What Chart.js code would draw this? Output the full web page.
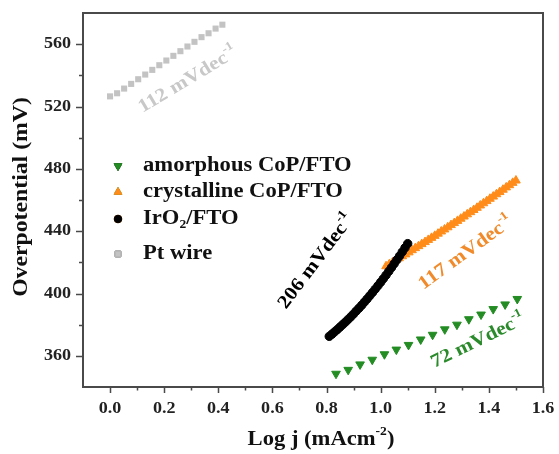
<!DOCTYPE html>
<html>
<head>
<meta charset="utf-8">
<script src="https://cdn.jsdelivr.net/npm/chart.js@4.4.0/dist/chart.umd.min.js"></script>
<style>
  html, body { margin: 0; padding: 0; background: #fff; }
  #wrap { width: 559px; height: 454px; }
</style>
</head>
<body>
<div id="wrap"><canvas id="tafel" width="559" height="454"></canvas></div>
<script>
// tafel plot -- overpotential vs log j, four catalysts

// amorphous CoP/FTO (green, down triangles)
const amorphX = [0.835, 0.880, 0.924, 0.969, 1.014, 1.058, 1.103, 1.148, 1.192, 1.237, 1.282, 1.326, 1.371, 1.416, 1.460, 1.505];
const amorphY = [348.5, 351.0, 354.5, 357.5, 361.0, 364.0, 367.0, 370.5, 373.5, 377.0, 380.0, 383.5, 386.5, 390.0, 393.0, 396.5];

// crystalline CoP/FTO (orange, up triangles)
const crystX = [1.020, 1.032, 1.044, 1.056, 1.068, 1.080, 1.092, 1.104, 1.116, 1.128,
                1.140, 1.152, 1.164, 1.176, 1.188, 1.200, 1.212, 1.224, 1.236, 1.248,
                1.260, 1.272, 1.284, 1.296, 1.308, 1.320, 1.332, 1.344, 1.356, 1.368,
                1.380, 1.392, 1.404, 1.416, 1.428, 1.440, 1.452, 1.464, 1.476, 1.488, 1.500];
const crystY = [417.5, 418.8, 420.0, 421.3, 422.6, 423.9, 425.1, 426.4, 427.8, 429.1,
                430.4, 431.7, 433.0, 434.4, 435.7, 437.0, 438.4, 439.8, 441.1, 442.5,
                443.9, 445.2, 446.6, 448.0, 449.4, 450.8, 452.2, 453.6, 455.0, 456.5,
                457.9, 459.3, 460.8, 462.2, 463.7, 465.1, 466.6, 468.1, 469.5, 471.0, 472.5];

// IrO2/FTO (black circles)
const iroX = [0.81, 0.82, 0.83, 0.84, 0.85, 0.86, 0.87, 0.88, 0.89, 0.90,
              0.91, 0.92, 0.93, 0.94, 0.95, 0.96, 0.97, 0.98, 0.99, 1.00,
              1.01, 1.02, 1.03, 1.04, 1.05, 1.06, 1.07, 1.08, 1.09, 1.10];
const iroY = [372.5, 373.9, 375.4, 376.9, 378.5, 380.1, 381.7, 383.4, 385.1, 386.9,
              388.8, 390.6, 392.5, 394.5, 396.5, 398.6, 400.7, 402.8, 405.0, 407.2,
              409.5, 411.8, 414.2, 416.6, 419.1, 421.6, 424.1, 426.7, 429.3, 432.0];

// Pt wire (grey squares)
const ptX = [0.000, 0.026, 0.052, 0.078, 0.104, 0.130, 0.156, 0.182, 0.208,
             0.234, 0.260, 0.286, 0.312, 0.338, 0.364, 0.390, 0.415];
const ptY = [526.5, 528.5, 531.5, 534.5, 537.5, 540.5, 543.5, 546.5, 549.5,
             552.5, 555.5, 558.5, 561.5, 564.5, 567.0, 570.0, 572.5];

// axes
const xTicks = [0.0, 0.2, 0.4, 0.6, 0.8, 1.0, 1.2, 1.4, 1.6];
const xMinor = [0.1, 0.3, 0.5, 0.7, 0.9, 1.1, 1.3, 1.5];
const yTicks = [360, 400, 440, 480, 520, 560];
const yMinor = [380, 420, 460, 500, 540];

const FONT = '"Liberation Serif", "Times New Roman", serif';
const SX = 1.13; // the source figure is a bit stretched sideways

const GREEN = '#238c23';
const ORANGE = '#ff8c1a';
const GREY = '#c3c3c3';

// slope labels, in data coords
const notes = [
  { text: '112 mVdec', sup: '-1', x: 0.288, y: 537, angle: -31, color: '#c8c8c8' },
  { text: '206 mVdec', sup: '-1', x: 0.762, y: 420.5, angle: -53, color: '#000' },
  { text: '117 mVdec', sup: '-1', x: 1.315, y: 426, angle: -36, color: '#f08a2a' },
  { text: '72 mVdec', sup: '-1', x: 1.36, y: 369.5, angle: -26, color: '#2b8a2b' },
];

const legendItems = [
  { parts: [{ t: 'amorphous CoP/FTO' }], style: 'triangle', rot: 180, color: GREEN, r: 4.5 },
  { parts: [{ t: 'crystalline CoP/FTO' }], style: 'triangle', rot: 0, color: ORANGE, r: 4.5 },
  { parts: [{ t: 'IrO' }, { t: '2', sub: true }, { t: '/FTO' }], style: 'circle', rot: 0, color: '#000', r: 3.8 },
  { parts: [{ t: 'Pt wire' }], style: 'rect', rot: 0, color: GREY, r: 4 },
];
const legendRowsY = [166, 192, 219, 254];

function pts(xs, ys) {
  return xs.map((x, i) => ({ x, y: ys[i] }));
}

// rich text: parts with optional sup/sub, stretched along the baseline
function richWidth(ctx, parts, size) {
  let w = 0;
  for (const p of parts) {
    const s = (p.sup || p.sub) ? Math.round(size * 0.62) : size;
    ctx.font = `bold ${s}px ${FONT}`;
    w += ctx.measureText(p.t).width;
  }
  return w;
}

function drawRich(ctx, parts, x, y, opt) {
  const size = opt.size;
  ctx.save();
  ctx.translate(x, y);
  if (opt.angle) ctx.rotate(opt.angle * Math.PI / 180);
  ctx.scale(SX, 1);
  ctx.fillStyle = opt.color || '#111';
  ctx.textBaseline = 'middle';
  ctx.textAlign = 'left';
  const w = richWidth(ctx, parts, size);
  let cx = opt.align === 'left' ? 0 : opt.align === 'right' ? -w : -w / 2;
  for (const p of parts) {
    const small = p.sup || p.sub;
    const s = small ? Math.round(size * 0.62) : size;
    ctx.font = `bold ${s}px ${FONT}`;
    let dy = 0;
    if (p.sup) dy = -size * 0.38;
    if (p.sub) dy = size * 0.3;
    ctx.fillText(p.t, cx, dy);
    cx += ctx.measureText(p.t).width;
  }
  ctx.restore();
}

const framePlugin = {
  id: 'frame',
  afterDatasetsDraw(chart) {
    const { ctx, chartArea: a, scales } = chart;
    const xs = scales.x, ys = scales.y;

    // slope annotations
    for (const n of notes) {
      drawRich(ctx, [{ t: n.text }, { t: n.sup, sup: true }],
        xs.getPixelForValue(n.x), ys.getPixelForValue(n.y),
        { size: 19, angle: n.angle, color: n.color });
    }

    // legend
    legendItems.forEach((it, i) => {
      const ly = legendRowsY[i];
      Chart.helpers.drawPoint(ctx, {
        pointStyle: it.style, radius: it.r, rotation: it.rot, borderWidth: 1,
      }, a.left + 35, ly);
      ctx.fillStyle = it.color;
      ctx.strokeStyle = it.color;
      ctx.fill();
      ctx.stroke();
      drawRich(ctx, it.parts, a.left + 60, ly, { size: 20, align: 'left', color: '#111' });
    });

    // frame
    ctx.save();
    ctx.strokeStyle = '#4a4a4a';
    ctx.lineWidth = 2;
    ctx.strokeRect(a.left, a.top, a.right - a.left, a.bottom - a.top);

    // ticks, outward
    ctx.lineWidth = 1.5;
    ctx.beginPath();
    for (const v of xTicks) {
      const px = Math.round(xs.getPixelForValue(v)) + 0.5;
      ctx.moveTo(px, a.bottom); ctx.lineTo(px, a.bottom + 6);
    }
    for (const v of xMinor) {
      const px = Math.round(xs.getPixelForValue(v)) + 0.5;
      ctx.moveTo(px, a.bottom); ctx.lineTo(px, a.bottom + 3.5);
    }
    for (const v of yTicks) {
      const py = Math.round(ys.getPixelForValue(v)) + 0.5;
      ctx.moveTo(a.left, py); ctx.lineTo(a.left - 7, py);
    }
    for (const v of yMinor) {
      const py = Math.round(ys.getPixelForValue(v)) + 0.5;
      ctx.moveTo(a.left, py); ctx.lineTo(a.left - 4, py);
    }
    ctx.stroke();
    ctx.restore();

    // tick labels
    for (const v of xTicks) {
      drawRich(ctx, [{ t: v.toFixed(1) }], xs.getPixelForValue(v), a.bottom + 22,
        { size: 16, color: '#222' });
    }
    for (const v of yTicks) {
      drawRich(ctx, [{ t: String(v) }], a.left - 12, ys.getPixelForValue(v),
        { size: 16, align: 'right', color: '#222' });
    }

    // axis titles
    drawRich(ctx, [{ t: 'Log j (mAcm' }, { t: '-2', sup: true }, { t: ')' }],
      (a.left + a.right) / 2 + 8, a.bottom + 53, { size: 20, color: '#111' });
    drawRich(ctx, [{ t: 'Overpotential (mV)' }], 22, (a.top + a.bottom) / 2 - 3,
      { size: 21, angle: -90, color: '#111' });
  },
};

new Chart(document.getElementById('tafel'), {
  type: 'scatter',
  data: {
    datasets: [
      {
        label: 'amorphous CoP/FTO',
        data: pts(amorphX, amorphY),
        pointStyle: 'triangle', rotation: 180, pointRadius: 5,
        backgroundColor: GREEN, borderColor: GREEN, borderWidth: 1,
      },
      {
        label: 'crystalline CoP/FTO',
        data: pts(crystX, crystY),
        pointStyle: 'triangle', pointRadius: 5,
        backgroundColor: ORANGE, borderColor: ORANGE, borderWidth: 1,
      },
      {
        label: 'IrO2/FTO',
        data: pts(iroX, iroY),
        pointStyle: 'circle', pointRadius: 4.2,
        backgroundColor: '#000', borderColor: '#000', borderWidth: 1,
        order: -1,
      },
      {
        label: 'Pt wire',
        data: pts(ptX, ptY),
        pointStyle: 'rect', pointRadius: 4.3,
        backgroundColor: GREY, borderColor: GREY, borderWidth: 0,
      },
    ],
  },
  options: {
    responsive: false,
    animation: false,
    layout: { padding: { left: 83, top: 13, right: 16, bottom: 67 } },
    plugins: { legend: { display: false }, tooltip: { enabled: false } },
    scales: {
      x: { type: 'linear', min: -0.1, max: 1.6, display: false },
      y: { type: 'linear', min: 340, max: 580, display: false },
    },
  },
  plugins: [framePlugin],
});
</script>
</body>
</html>
